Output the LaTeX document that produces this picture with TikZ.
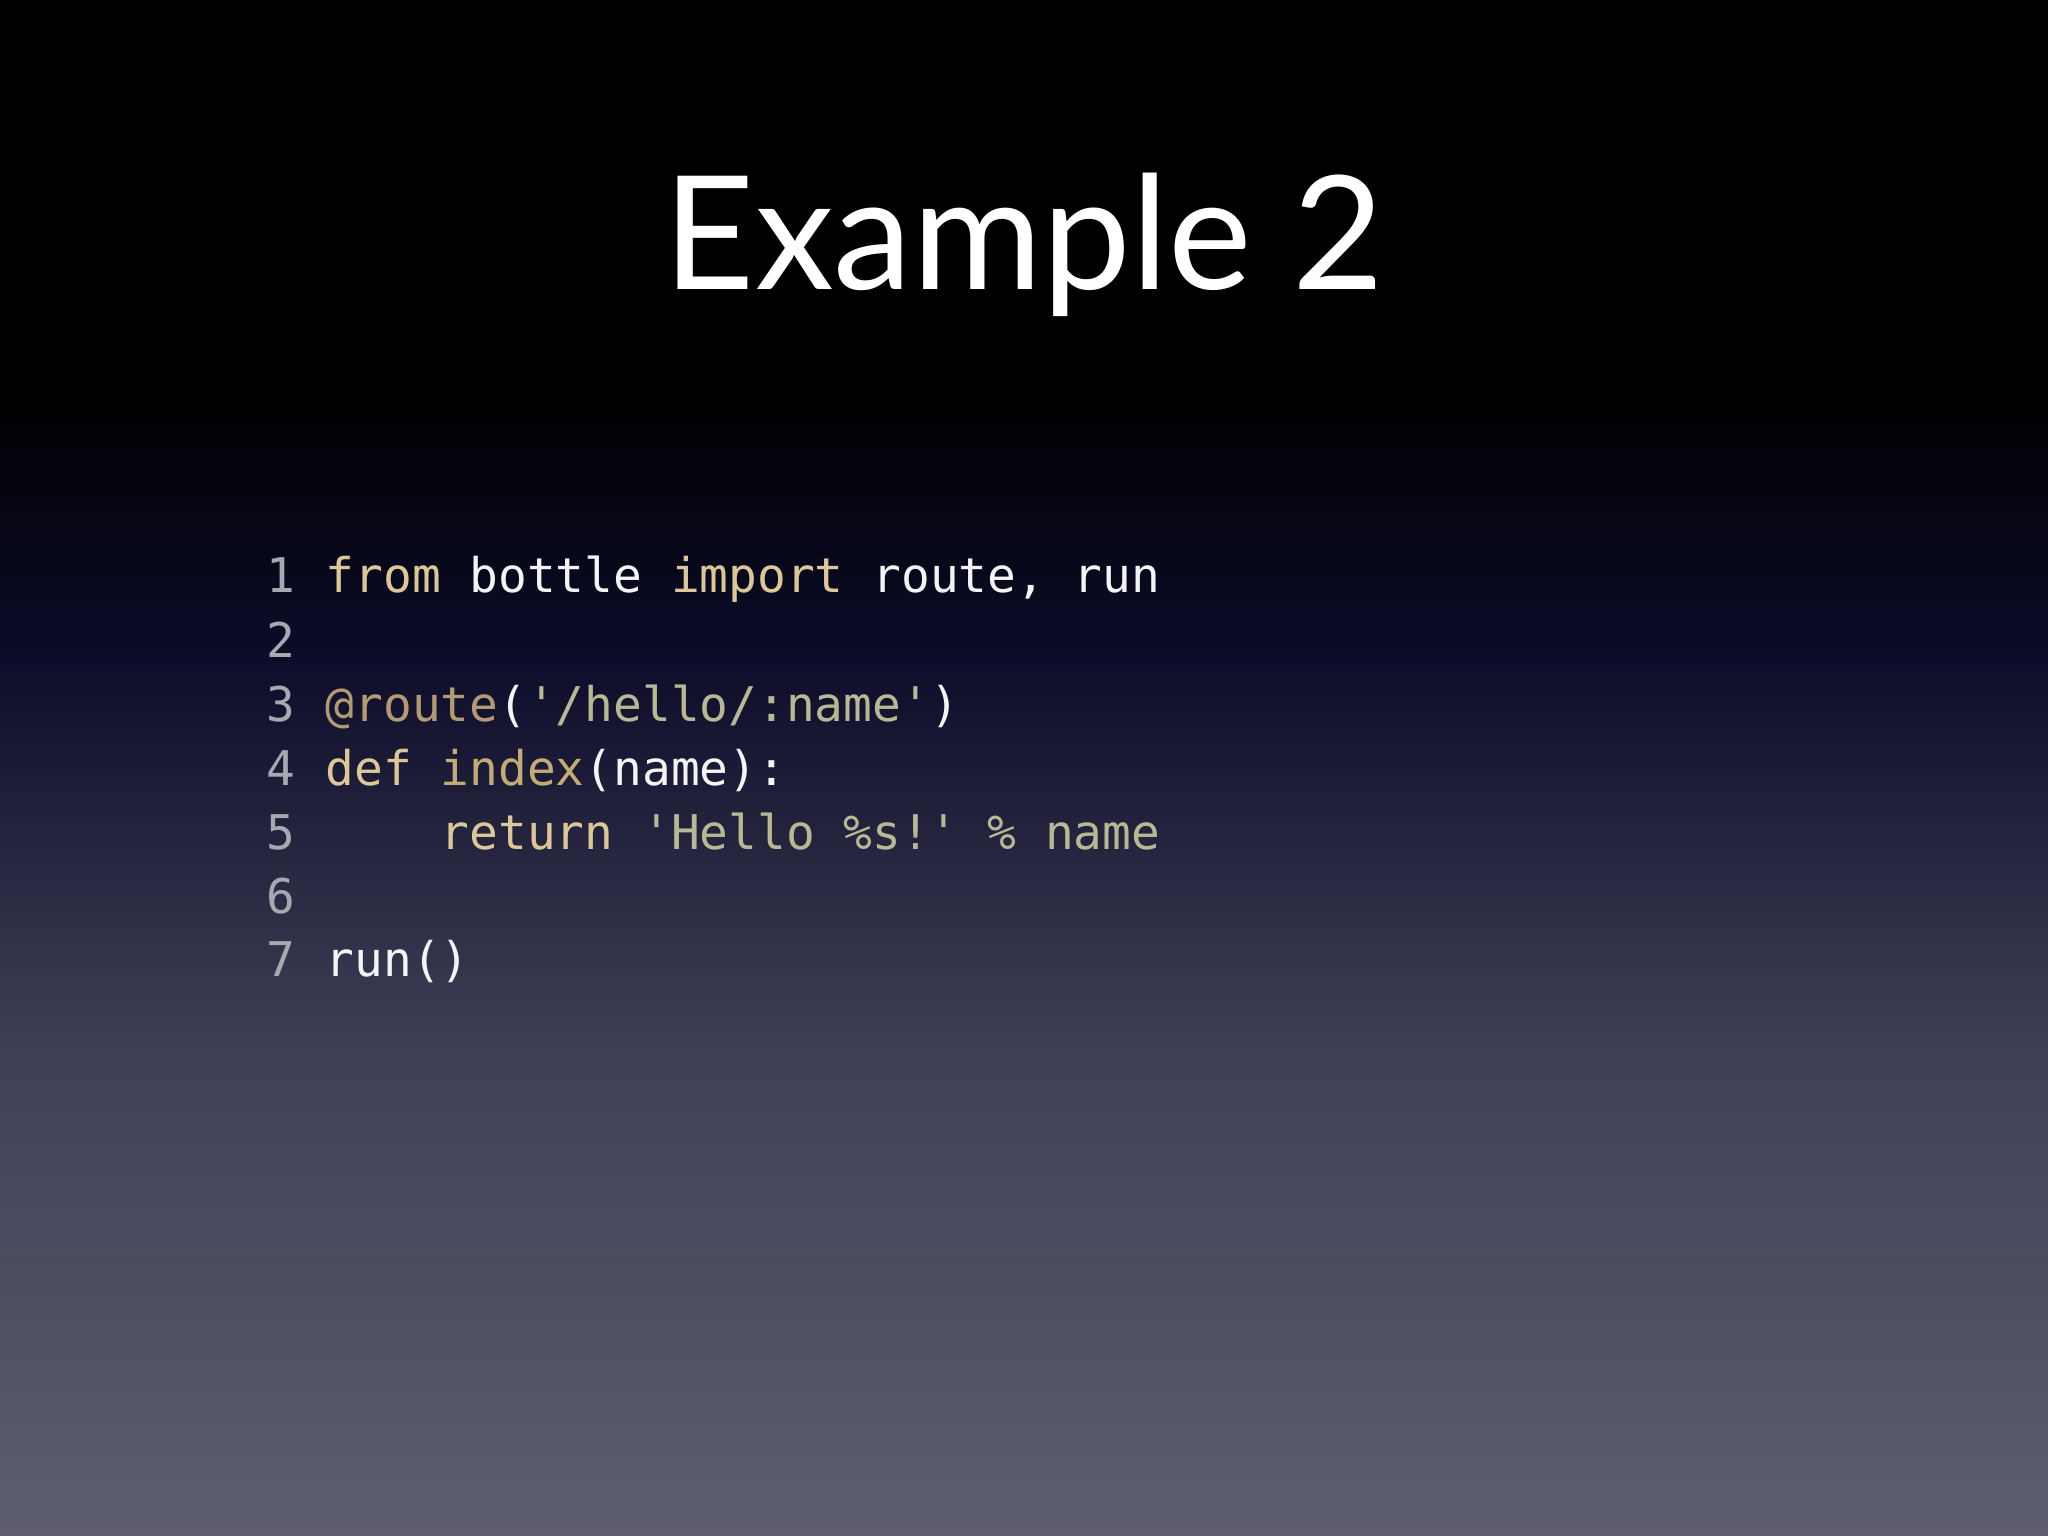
\documentclass[tikz,border=0pt]{standalone}
\usepackage{fontspec}
\setmainfont{Lato}
\setmonofont{DejaVu Sans Mono}
\definecolor{navy}{HTML}{0C0C2A}
\definecolor{midc}{HTML}{3E3E55}
\definecolor{botc}{HTML}{5E5E70}
\definecolor{kw}{HTML}{DCC896}
\definecolor{deco}{HTML}{B39A72}
\definecolor{str}{HTML}{B9B894}
\definecolor{fn}{HTML}{C4AA74}
\definecolor{num}{HTML}{A8A8B0}
\definecolor{pl}{HTML}{F4F4F4}
\begin{document}
\begin{tikzpicture}[y=-1cm,
  codeline/.style={anchor=base west,inner sep=0pt,font=\ttfamily\fontsize{13.6}{14}\selectfont,text=pl},
  numline/.style={anchor=base west,inner sep=0pt,font=\ttfamily\fontsize{13.6}{14}\selectfont,text=num}]
\useasboundingbox (0,0) rectangle (20.48,15.36);
\fill[black] (0,0) rectangle (20.48,3.95);
\shade[top color=black,bottom color=navy] (0,3.9) rectangle (20.48,6.55);
\shade[top color=navy,bottom color=midc] (0,6.5) rectangle (20.48,10.45);
\shade[top color=midc,bottom color=botc] (0,10.4) rectangle (20.48,15.36);
\node[text=white,font=\fontsize{45}{45}\selectfont,anchor=base] (title) at (10.24,2.9) {Example 2};
\foreach \i/\y in {1/5.93,2/6.57,3/7.21,4/7.85,5/8.49,6/9.13,7/9.77}
  \node[numline] (n\i) at (2.66,\y) {\i};
\node[codeline] (l1) at (3.25,5.93) {\textcolor{kw}{from} bottle \textcolor{kw}{import} route, run};
\node[codeline] (l3) at (3.25,7.21) {\textcolor{deco}{@route}(\textcolor{str}{'/hello/:name'})};
\node[codeline] (l4) at (3.25,7.85) {\textcolor{kw}{def} \textcolor{fn}{index}(name):};
\node[codeline] (l5) at (3.25,8.49) {\ \ \ \ \textcolor{kw}{return} \textcolor{str}{'Hello \%s!' \% name}};
\node[codeline] (l7) at (3.25,9.77) {run()};
\end{tikzpicture}
\end{document}
